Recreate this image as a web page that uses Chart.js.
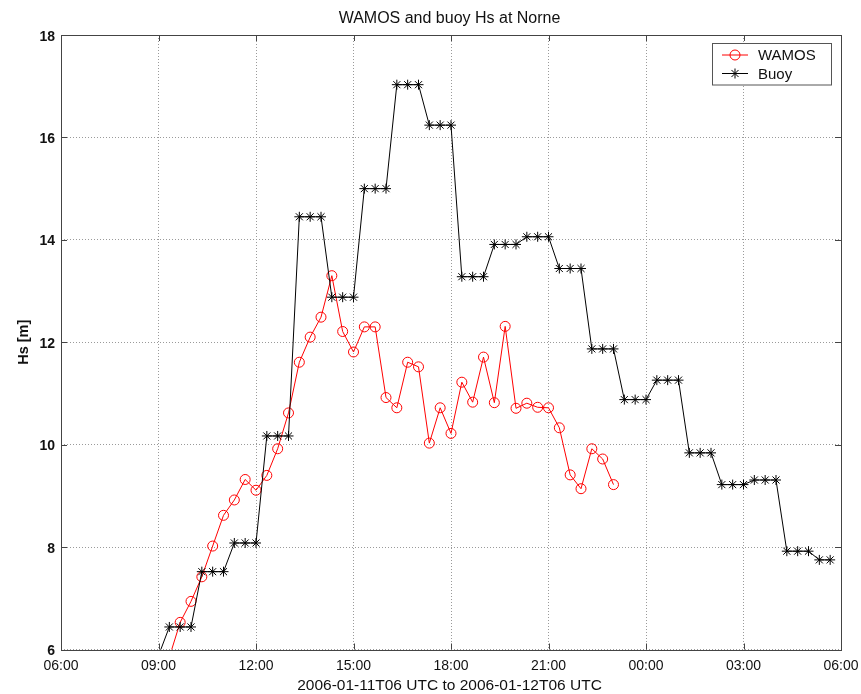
<!DOCTYPE html>
<html><head><meta charset="utf-8">
<script src="https://cdn.jsdelivr.net/npm/chart.js@4"></script>
<style>html,body{margin:0;padding:0;background:#fff;}#wrap{width:861px;height:694px;position:relative;}</style>
</head><body><div id="wrap"><canvas id="c" width="861" height="694"></canvas></div>
<script>
const chartTitle = 'WAMOS and buoy Hs at Norne';
const xAxisTitle = '2006-01-11T06 UTC to 2006-01-12T06 UTC';
const yAxisTitle = 'Hs [m]';
const xTickHours = [0, 3, 6, 9, 12, 15, 18, 21, 24];
const xTickLabels = ['06:00','09:00','12:00','15:00','18:00','21:00','00:00','03:00','06:00'];
const yTicks = [6, 8, 10, 12, 14, 16, 18];
const seriesNames = ['WAMOS', 'Buoy'];

const wamosTimes = ['09:20','09:40','10:00','10:20','10:40','11:00','11:20','11:40','12:00','12:20','12:40',
  '13:00','13:20','13:40','14:00','14:20','14:40','15:00','15:20','15:40','16:00','16:20','16:40',
  '17:00','17:20','17:40','18:00','18:20','18:40','19:00','19:20','19:40','20:00','20:20','20:40',
  '21:00','21:20','21:40','22:00','22:20','22:40','23:00'];
const wamosHs = [5.85, 6.53, 6.94, 7.42, 8.02, 8.62, 8.92, 9.32, 9.11, 9.40, 9.92,
  10.62, 11.61, 12.10, 12.49, 13.30, 12.21, 11.81, 12.30, 12.30, 10.92, 10.72, 11.61,
  11.52, 10.03, 10.72, 10.22, 11.22, 10.83, 11.71, 10.82, 12.31, 10.71, 10.81, 10.73,
  10.72, 10.33, 9.41, 9.14, 9.92, 9.72, 9.22];

const buoyTimes = ['08:20','08:40','09:00','09:20','09:40','10:00','10:20','10:40','11:00',
  '11:20','11:40','12:00','12:20','12:40','13:00','13:20','13:40','14:00','14:20','14:40','15:00',
  '15:20','15:40','16:00','16:20','16:40','17:00','17:20','17:40','18:00','18:20','18:40','19:00',
  '19:20','19:40','20:00','20:20','20:40','21:00','21:20','21:40','22:00','22:20','22:40','23:00',
  '23:20','23:40','00:00','00:20','00:40','01:00','01:20','01:40','02:00','02:20','02:40','03:00',
  '03:20','03:40','04:00','04:20','04:40','05:00','05:20','05:40'];
const buoyHs = [5.88, 5.88, 5.88, 6.44, 6.44, 6.44, 7.52, 7.52, 7.52,
  8.08, 8.08, 8.08, 10.17, 10.17, 10.17, 14.45, 14.45, 14.45, 12.88, 12.88, 12.88,
  15.00, 15.00, 15.00, 17.03, 17.03, 17.03, 16.24, 16.24, 16.24, 13.28, 13.28, 13.28,
  13.91, 13.91, 13.91, 14.06, 14.06, 14.06, 13.44, 13.44, 13.44, 11.87, 11.87, 11.87,
  10.88, 10.88, 10.88, 11.26, 11.26, 11.26, 9.84, 9.84, 9.84, 9.22, 9.22, 9.22,
  9.31, 9.31, 9.31, 7.92, 7.92, 7.92, 7.75, 7.75];

// hours elapsed since 06:00 on the first day
function toHours(t) {
  const [hh, mm] = t.split(':').map(Number);
  return ((hh - 6 + 24) % 24) + mm / 60;
}
const wamosData = wamosTimes.map((t, i) => ({ x: toHours(t), y: wamosHs[i] }));
const buoyData = buoyTimes.map((t, i) => ({ x: toHours(t), y: buoyHs[i] }));

const FONT = '"Liberation Sans", Arial, Helvetica, sans-serif';

const decor = {
  id: 'decor',
  afterDraw(chart) {
    const ctx = chart.ctx;
    const a = chart.chartArea;
    const xs = chart.scales.x, ys = chart.scales.y;
    ctx.save();
    // frame
    ctx.strokeStyle = '#444';
    ctx.lineWidth = 1;
    ctx.strokeRect(Math.round(a.left) + 0.5, Math.round(a.top) + 0.5,
      Math.round(a.right) - Math.round(a.left), Math.round(a.bottom) - Math.round(a.top));
    // inner ticks
    const TL = 6;
    ctx.beginPath();
    xTickHours.forEach(v => {
      const px = Math.round(xs.getPixelForValue(v)) + 0.5;
      ctx.moveTo(px, a.bottom); ctx.lineTo(px, a.bottom - TL);
      ctx.moveTo(px, a.top); ctx.lineTo(px, a.top + TL);
    });
    yTicks.forEach(v => {
      const py = Math.round(ys.getPixelForValue(v)) + 0.5;
      ctx.moveTo(a.left, py); ctx.lineTo(a.left + TL, py);
      ctx.moveTo(a.right, py); ctx.lineTo(a.right - TL, py);
    });
    ctx.stroke();
    // x tick labels
    ctx.fillStyle = '#111';
    ctx.font = '14px ' + FONT;
    ctx.textAlign = 'center';
    ctx.textBaseline = 'alphabetic';
    xTickHours.forEach((v, i) => {
      ctx.fillText(xTickLabels[i], xs.getPixelForValue(v), a.bottom + 20);
    });
    // y tick labels
    ctx.font = 'bold 14px ' + FONT;
    ctx.textAlign = 'right';
    yTicks.forEach(v => {
      ctx.fillText(String(v), a.left - 6, ys.getPixelForValue(v) + 5.5);
    });
    // title
    ctx.font = '16px ' + FONT;
    ctx.textAlign = 'center';
    ctx.fillText(chartTitle, (a.left + a.right) / 2 - 1.5, 23);
    // x axis title
    ctx.font = '15.5px ' + FONT;
    ctx.fillText(xAxisTitle, (a.left + a.right) / 2 - 1.5, 689.5);
    // y axis title
    ctx.save();
    ctx.translate(27.5, (a.top + a.bottom) / 2);
    ctx.rotate(-Math.PI / 2);
    ctx.font = 'bold 14.5px ' + FONT;
    ctx.fillText(yAxisTitle, 0, 0);
    ctx.restore();
    // legend
    const lx = 712.5, ly = 43.5, lw = 119, lh = 41.5;
    ctx.fillStyle = '#fff';
    ctx.fillRect(lx, ly, lw, lh);
    ctx.strokeStyle = '#555';
    ctx.strokeRect(lx, ly, lw, lh);
    const ds = chart.data.datasets;
    const rows = [55, 73.5];
    [0, 1].forEach(i => {
      const d = ds[i];
      const y = rows[i];
      ctx.strokeStyle = d.borderColor;
      ctx.lineWidth = 1;
      ctx.beginPath(); ctx.moveTo(722, y); ctx.lineTo(748, y); ctx.stroke();
      const cx = 735, r = d.pointRadius;
      ctx.beginPath();
      if (d.pointStyle === 'circle') {
        ctx.arc(cx, y, r, 0, Math.PI * 2);
      } else {
        for (let k = 0; k < 4; k++) {
          const ang = k * Math.PI / 4;
          ctx.moveTo(cx - r * Math.cos(ang), y - r * Math.sin(ang));
          ctx.lineTo(cx + r * Math.cos(ang), y + r * Math.sin(ang));
        }
      }
      ctx.stroke();
      ctx.fillStyle = '#111';
      ctx.font = '15px ' + FONT;
      ctx.textAlign = 'left';
      ctx.fillText(seriesNames[i], 758, y + 5);
    });
    ctx.restore();
  }
};

new Chart(document.getElementById('c'), {
  type: 'line',
  data: {
    datasets: [
      {
        label: seriesNames[0], data: wamosData, order: 1,
        borderColor: '#ff0000', borderWidth: 1, tension: 0,
        pointStyle: 'circle', pointRadius: 5, pointHoverRadius: 5,
        pointBorderColor: '#ff0000', pointBackgroundColor: 'rgba(0,0,0,0)', pointBorderWidth: 1,
        clip: 0
      },
      {
        label: seriesNames[1], data: buoyData, order: 0,
        borderColor: '#000000', borderWidth: 1, tension: 0,
        pointStyle: 'star', pointRadius: 5, pointHoverRadius: 5,
        pointBorderColor: '#000000', pointBackgroundColor: 'rgba(0,0,0,0)', pointBorderWidth: 1,
        clip: 0
      }
    ]
  },
  options: {
    responsive: false,
    animation: false,
    events: [],
    layout: { padding: { left: 61, right: 20, top: 35, bottom: 44.5 } },
    plugins: { legend: { display: false }, title: { display: false }, tooltip: { enabled: false } },
    scales: {
      x: {
        type: 'linear', min: 0, max: 24,
        afterBuildTicks: s => { s.ticks = xTickHours.map(v => ({ value: v })); },
        afterFit: s => { s.height = 0; },
        ticks: { display: false },
        grid: { color: '#9a9a9a', lineWidth: 1, drawTicks: false },
        border: { display: false, dash: [1, 2] }
      },
      y: {
        type: 'linear', min: 6, max: 18,
        afterBuildTicks: s => { s.ticks = yTicks.map(v => ({ value: v })); },
        afterFit: s => { s.width = 0; },
        ticks: { display: false },
        grid: { color: '#9a9a9a', lineWidth: 1, drawTicks: false },
        border: { display: false, dash: [1, 2] }
      }
    }
  },
  plugins: [decor]
});
</script></body></html>
